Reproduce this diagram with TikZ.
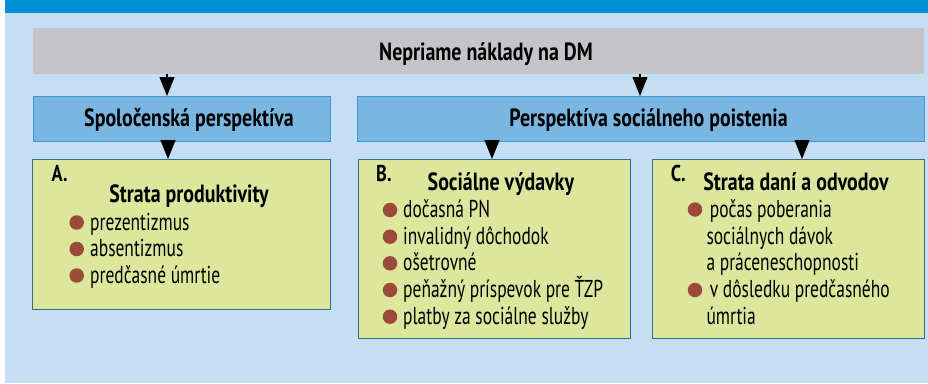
\documentclass[tikz,border=0pt]{standalone}
\usepackage{fontspec}
\setmainfont{PT Sans}[FakeStretch=0.715]
\newfontfamily\bfam{PT Sans}[FakeStretch=0.80]
\usetikzlibrary{arrows.meta}
\definecolor{bgblue}{HTML}{C6DEF3}
\definecolor{barblue}{HTML}{0090D5}
\definecolor{grayfill}{HTML}{C5C4C8}
\definecolor{boxblue}{HTML}{7AB6E2}
\definecolor{boxblueline}{HTML}{3A9AD9}
\definecolor{greenfill}{HTML}{DCE69C}
\definecolor{greenline}{HTML}{2F6F8A}
\definecolor{dotred}{HTML}{9B4A3A}
\tikzset{
  head/.style={draw=none, inner sep=0pt, outer sep=0pt},
  graybox/.style={head, fill=grayfill},
  bluebox/.style={head, fill=boxblue, draw=boxblueline, line width=0.8bp},
  greenbox/.style={head, fill=greenfill, draw=greenline, line width=1bp},
  arr/.style={line width=1.2bp, -{Triangle[width=15bp,length=19bp]}},
  txt/.style={inner sep=0pt, anchor=base west, font=\fontsize{24.5}{26}\selectfont},
  btxt/.style={inner sep=0pt, anchor=base, font=\fontsize{25}{27}\bfam\bfseries},
  lbl/.style={inner sep=0pt, anchor=base west, font=\fontsize{23}{25}\bfam\bfseries},
  dot/.style={circle, fill=dotred, inner sep=0pt, minimum size=14.5bp}
}
\begin{document}
\begin{tikzpicture}[x=1bp, y=-1bp]
\useasboundingbox (0,0) rectangle (928,383);
\fill[bgblue] (5,0) rectangle (928,383);
\fill[barblue] (5,0) rectangle (928,12.5);
% main boxes
\node[graybox, minimum width=891bp, minimum height=46bp] (top) at (478.5,51) {};
\node[bluebox, minimum width=297bp, minimum height=45bp] (spol) at (181.5,118.5) {};
\node[bluebox, minimum width=567bp, minimum height=45bp] (pers) at (640.5,118.5) {};
\node[greenbox, minimum width=297bp, minimum height=150bp] (A) at (181.5,234) {};
\node[greenbox, minimum width=272bp, minimum height=179bp] (B) at (494,248.5) {};
\node[greenbox, minimum width=272bp, minimum height=179bp] (C) at (788,248.5) {};
% titles
\node[btxt] (ttop) at (486,60) {Nepriame náklady na DM};
\node[btxt] (tspol) at (189,126.7) {Spoločenská perspektíva};
\node[btxt] (tpers) at (648.5,126.7) {Perspektíva sociálneho poistenia};
% arrows
\coordinate (a1) at (167,96);
\coordinate (a2) at (640,96);
\coordinate (a3) at (168,159);
\coordinate (a4) at (492,159);
\coordinate (a5) at (802,159);
\draw[arr] (top.south -| a1) -- (a1);
\draw[arr] (top.south -| a2) -- (a2);
\draw[arr] (spol.south -| a3) -- (a3);
\draw[arr] (pers.south -| a4) -- (a4);
\draw[arr] (pers.south -| a5) -- (a5);
% box A
\node[lbl] (la) at (51.5,181.7) {A.};
\node[btxt] (ha) at (189,202.7) {Strata produktivity};
\node[dot] (da1) at (76.7,222.5) {};
\node[dot] (da2) at (76.7,249) {};
\node[dot] (da3) at (76.7,275.5) {};
\node[txt] (ta1) at (90,230) {prezentizmus};
\node[txt] (ta2) at (90,256.5) {absentizmus};
\node[txt] (ta3) at (90,283) {predčasné úmrtie};
% box B
\node[lbl] (lb) at (376,181.7) {B.};
\node[btxt] (hb) at (501,190.5) {Sociálne výdavky};
\node[dot] (db1) at (390,210) {};
\node[dot] (db2) at (390,236.7) {};
\node[dot] (db3) at (390,263.3) {};
\node[dot] (db4) at (390,290) {};
\node[dot] (db5) at (390,316.7) {};
\node[txt] (tb1) at (403,217.5) {dočasná PN};
\node[txt] (tb2) at (403,244.2) {invalidný dôchodok};
\node[txt] (tb3) at (403,270.8) {ošetrovné};
\node[txt] (tb4) at (403,297.5) {peňažný príspevok pre ŤZP};
\node[txt] (tb5) at (403,324.2) {platby za sociálne služby};
% box C
\node[lbl] (lc) at (670.7,181.7) {C.};
\node[btxt] (hc) at (796,190.5) {Strata daní a odvodov};
\node[dot] (dc1) at (695,209.5) {};
\node[dot] (dc2) at (695,290) {};
\node[txt] (tc1) at (709.7,217.5) {počas poberania};
\node[txt] (tc2) at (706.3,244.2) {sociálnych dávok};
\node[txt] (tc3) at (706.3,270.8) {a práceneschopnosti};
\node[txt] (tc4) at (709.7,297.5) {v dôsledku predčasného};
\node[txt] (tc5) at (706.3,324.2) {úmrtia};
\end{tikzpicture}
\end{document}
